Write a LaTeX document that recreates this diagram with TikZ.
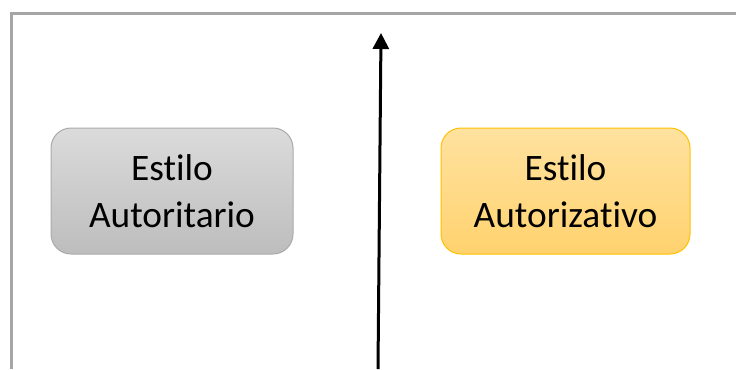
\documentclass[tikz,border=0pt]{standalone}
\usepackage{fontspec}
\setmainfont[Ligatures=NoCommon, RawFeature=-liga]{Carlito}
\usepackage{tikz}
\usetikzlibrary{arrows.meta, positioning}
\definecolor{framegray}{RGB}{166, 166, 166}
\definecolor{autgraytop}{RGB}{219, 219, 219}
\definecolor{autgraybot}{RGB}{189, 189, 189}
\definecolor{autgrayline}{RGB}{170, 170, 170}
\definecolor{autgoldtop}{RGB}{255, 226, 160}
\definecolor{autgoldbot}{RGB}{255, 210, 110}
\definecolor{autgoldline}{RGB}{255, 192, 0}

\begin{document}
\begin{tikzpicture}[x=0.75pt, y=-0.75pt,
    stylebox/.style={rounded corners=15pt, minimum width=181.5pt, minimum height=94.5pt,
        align=center, font=\fontsize{28}{35.5}\selectfont, line width=0.75pt}]
    \useasboundingbox (0,0) rectangle (736,369);

    % Frame
    \draw[framegray, line width=2.25pt] (11.5,369) -- (11.5,13.5) -- (736,13.5);

    % The two styles
    \node[stylebox, draw=autgrayline, top color=autgraytop, bottom color=autgraybot]
        (autoritario) at (172,191) {Estilo\\Autoritario};
    \node[stylebox, draw=autgoldline, top color=autgoldtop, bottom color=autgoldbot,
        minimum width=186.75pt] (autorizativo) at (565.5,191) {Estilo\\Autorizativo};

    % Vertical axis
    \coordinate (axisbot) at (378,369);
    \coordinate (axistop) at (381,33);
    \draw[line width=2.25pt, -{Triangle[length=12pt, width=12pt]}] (axisbot) -- (axistop);
\end{tikzpicture}
\end{document}
